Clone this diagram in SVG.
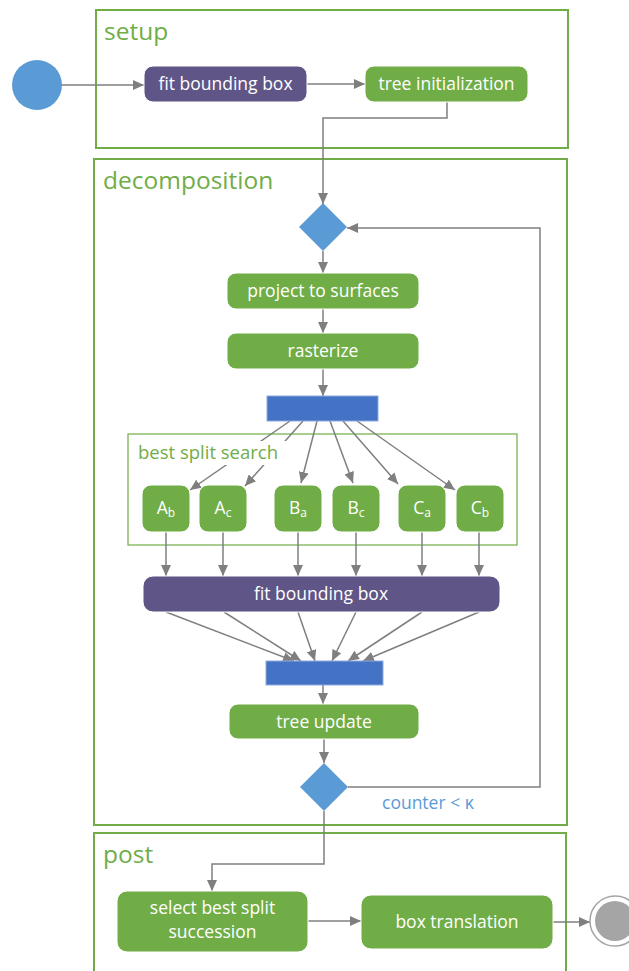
<svg xmlns="http://www.w3.org/2000/svg" width="629" height="971" viewBox="0 0 629 971">
<defs>
<marker id="ah" markerUnits="userSpaceOnUse" markerWidth="11" markerHeight="10" refX="11" refY="5" orient="auto">
<path d="M0,0 L11,5 L0,10 z" fill="#7F7F7F"/>
</marker>
<style>
.frame{fill:none;stroke:#70AD47;stroke-width:2}
.title{font-family:"Open Sans","Noto Sans",sans-serif;font-size:24.5px;fill:#70AD47}
.g{fill:#70AD47;stroke:#fff;stroke-width:1}
.p{fill:#5F5586;stroke:#fff;stroke-width:1}
.bar{fill:#4472C4;stroke:#8FAADC;stroke-width:1}
.dia{fill:#5B9BD5}
.t{font-family:"Open Sans","Noto Sans",sans-serif;font-size:17.5px;fill:#fff;text-anchor:middle}
.st{font-size:12px}
.c{fill:none;stroke:#7F7F7F;stroke-width:1.5;marker-end:url(#ah)}
</style>
</defs>
<g id="frames">
<rect id="setup" class="frame" x="96" y="10" width="472" height="138"/>
<text class="title" x="104" y="40">setup</text>
<rect id="decomposition" class="frame" x="94" y="159" width="473" height="666"/>
<text class="title" x="103" y="189">decomposition</text>
<rect id="post" class="frame" x="94" y="833" width="472" height="150"/>
<text class="title" x="103" y="863">post</text>
<rect id="bss" fill="none" stroke="#70AD47" stroke-width="1.2" x="128" y="434" width="389" height="111"/>
</g>
<g id="connectors">
<path class="c" d="M62,85 H144"/>
<path class="c" d="M307,84 H365"/>
<path class="c" d="M447,101 V118 H323 V204"/>
<path class="c" d="M323,251 V273"/>
<path class="c" d="M323,309 V333"/>
<path class="c" d="M323,369 V396"/>
<path class="c" d="M290,421 L190,490"/>
<path class="c" d="M303,421 L245,486"/>
<path class="c" d="M317,421 L301,483"/>
<path class="c" d="M330,421 L353,483"/>
<path class="c" d="M343,421 L398,484"/>
<path class="c" d="M357,421 L455,490"/>
<path class="c" d="M166,532 V576"/>
<path class="c" d="M223,532 V576"/>
<path class="c" d="M298,532 V576"/>
<path class="c" d="M356,532 V576"/>
<path class="c" d="M422,532 V576"/>
<path class="c" d="M479,532 V576"/>
<path class="c" d="M166,612 L294,661"/>
<path class="c" d="M224,612 L301,661"/>
<path class="c" d="M298,612 L315,661"/>
<path class="c" d="M356,612 L332,661"/>
<path class="c" d="M422,612 L348,661"/>
<path class="c" d="M479,612 L363,661"/>
<path class="c" d="M323,685 V704"/>
<path class="c" d="M324,739 V763"/>
<path class="c" d="M348,787 H540 V228 H347"/>
<path class="c" d="M324,811 V864 H212 V891"/>
<path class="c" d="M308,921 H361"/>
<path class="c" d="M553,922 H590"/>
</g>
<g id="bss-label">
<rect x="136" y="441" width="150" height="24" fill="#fff"/>
<text x="138" y="459" font-family="'Open Sans','Noto Sans',sans-serif" font-size="18.5" fill="#70AD47">best split search</text>
</g>
<g id="start"><ellipse cx="37" cy="85" rx="25" ry="25" fill="#5B9BD5"/></g>
<g id="fit1"><rect class="p" x="144" y="66" width="163" height="36" rx="9"/><text class="t" x="225.5" y="90">fit bounding box</text></g>
<g id="treeinit"><rect class="g" x="365" y="66" width="163" height="36" rx="9"/><text class="t" x="446.5" y="90">tree initialization</text></g>
<g id="diamond1"><path class="dia" d="M323,203 L347,227 L323,251 L299,227 z"/></g>
<g id="project"><rect class="g" x="227" y="273" width="192" height="36" rx="9"/><text class="t" x="323" y="297">project to surfaces</text></g>
<g id="rasterize"><rect class="g" x="227" y="333" width="192" height="36" rx="9"/><text class="t" x="323" y="357">rasterize</text></g>
<g id="bar1"><rect class="bar" x="267" y="396" width="111" height="25"/></g>
<g id="Ab"><rect class="g" x="142" y="485" width="48" height="47" rx="9"/><text class="t" x="166" y="514">A<tspan class="st" dy="3">b</tspan></text></g>
<g id="Ac"><rect class="g" x="199" y="485" width="48" height="47" rx="9"/><text class="t" x="223" y="514">A<tspan class="st" dy="3">c</tspan></text></g>
<g id="Ba"><rect class="g" x="274" y="485" width="48" height="47" rx="9"/><text class="t" x="298" y="514">B<tspan class="st" dy="3">a</tspan></text></g>
<g id="Bc"><rect class="g" x="332" y="485" width="48" height="47" rx="9"/><text class="t" x="356" y="514">B<tspan class="st" dy="3">c</tspan></text></g>
<g id="Ca"><rect class="g" x="398" y="485" width="48" height="47" rx="9"/><text class="t" x="422" y="514">C<tspan class="st" dy="3">a</tspan></text></g>
<g id="Cb"><rect class="g" x="456" y="485" width="48" height="47" rx="9"/><text class="t" x="480" y="514">C<tspan class="st" dy="3">b</tspan></text></g>
<g id="fit2"><rect class="p" x="143" y="576" width="357" height="36" rx="10"/><text class="t" x="321" y="600">fit bounding box</text></g>
<g id="bar2"><rect class="bar" x="266" y="661" width="117" height="24"/></g>
<g id="treeupdate"><rect class="g" x="229" y="704" width="190" height="35" rx="9"/><text class="t" x="324" y="728">tree update</text></g>
<g id="diamond2"><path class="dia" d="M324,763 L348,787 L324,811 L300,787 z"/></g>
<g id="loop-label"><text x="382" y="809" font-family="'Open Sans','Noto Sans',sans-serif" font-size="17.5" fill="#5B9BD5">counter &lt; κ</text></g>
<g id="select"><rect class="g" x="117" y="891" width="191" height="61" rx="10"/><text class="t" x="212.5" y="914">select best split</text><text class="t" x="212.5" y="938">succession</text></g>
<g id="boxtrans"><rect class="g" x="361" y="895" width="192" height="54" rx="10"/><text class="t" x="457" y="928">box translation</text></g>
<g id="end"><circle cx="615" cy="921" r="25" fill="#fff" stroke="#A5A5A5" stroke-width="1.5"/><circle cx="615" cy="921" r="20" fill="#A5A5A5"/></g>
</svg>
